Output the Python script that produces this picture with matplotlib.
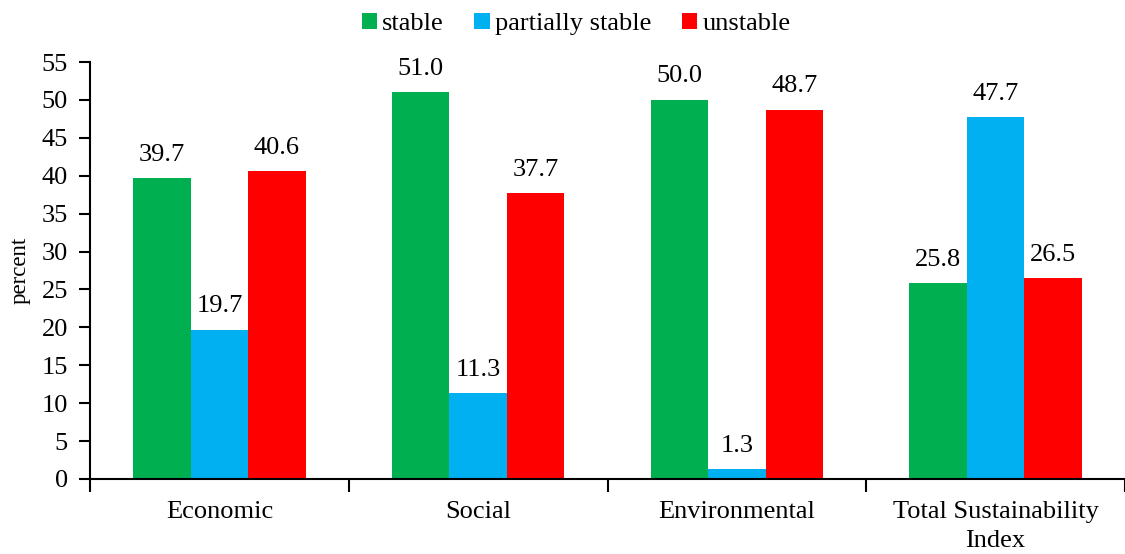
import numpy as np
import matplotlib.pyplot as plt
from matplotlib.ticker import FixedLocator

plt.rcParams['font.family'] = ['Liberation Serif', 'DejaVu Serif']

categories = ['Economic', 'Social', 'Environmental', 'Total Sustainability\nIndex']
stable = [39.7, 51.0, 50.0, 25.8]
partially_stable = [19.7, 11.3, 1.3, 47.7]
unstable = [40.6, 37.7, 48.7, 26.5]

series = [('stable', stable, '#00B050'),
          ('partially stable', partially_stable, '#00B0F0'),
          ('unstable', unstable, '#FF0000')]

fig = plt.figure(figsize=(11.25, 5.54), dpi=100)
ax = fig.add_axes([0.08, 0.1354, 0.92, 0.7526])

x = np.arange(len(categories))
width = 0.2225
for k, (name, vals, color) in enumerate(series):
    pos = x + (k - 1) * width
    bars = ax.bar(pos, vals, width, color=color, label=name)
    for b, v in zip(bars, vals):
        ax.annotate(f'{v:.1f}', (b.get_x() + b.get_width() / 2, v),
                    xytext=(0, 9), textcoords='offset points',
                    ha='center', va='bottom', fontsize=19)

ax.set_xlim(-0.5, len(categories) - 0.5)
ax.set_ylim(0, 55)
ax.set_yticks(np.arange(0, 56, 5))
ax.set_xticks(x)
ax.set_xticklabels(categories, fontsize=19, linespacing=1.4)
ax.xaxis.set_minor_locator(FixedLocator(np.arange(-0.5, len(categories), 1.0)))
ax.tick_params(axis='x', which='major', length=0, pad=16)
ax.tick_params(axis='x', which='minor', length=9, width=1.5, direction='out')
ax.tick_params(axis='y', length=8, width=1.5, direction='out', labelsize=19, pad=8)
ax.set_ylabel('percent', fontsize=16.5, labelpad=7.5)

for side in ('top', 'right'):
    ax.spines[side].set_visible(False)
for side in ('left', 'bottom'):
    ax.spines[side].set_linewidth(1.5)

fig.legend(loc='upper center', bbox_to_anchor=(0.512, 1.02), ncol=3, frameon=False,
           fontsize=19, handlelength=0.58, handleheight=0.58, handletextpad=0.2,
           columnspacing=1.15)

fig.savefig('out.png', dpi=100)
